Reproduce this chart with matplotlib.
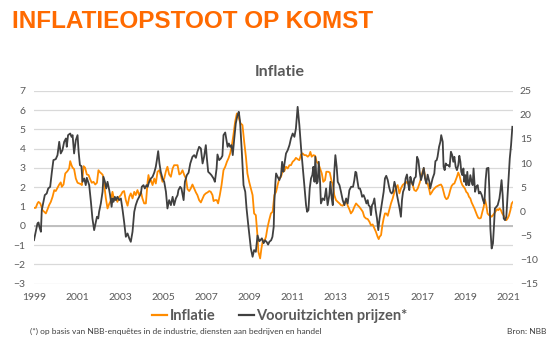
import matplotlib
matplotlib.use('Agg')
import matplotlib.pyplot as plt
from matplotlib.lines import Line2D

# Inflatie (linkeras, %)
infl_years = [
    1999.00, 1999.08, 1999.16, 1999.21, 1999.29, 1999.35, 1999.39, 1999.47, 1999.55, 1999.63,
    1999.70, 1999.78, 1999.86, 1999.94, 2000.01, 2000.09, 2000.17, 2000.24, 2000.29, 2000.37,
    2000.45, 2000.55, 2000.63, 2000.68, 2000.74, 2000.79, 2000.86, 2000.94, 2001.02, 2001.10,
    2001.17, 2001.22, 2001.30, 2001.37, 2001.45, 2001.53, 2001.61, 2001.68, 2001.76, 2001.84,
    2001.92, 2001.99, 2002.07, 2002.13, 2002.19, 2002.26, 2002.33, 2002.41, 2002.49, 2002.56,
    2002.64, 2002.72, 2002.80, 2002.87, 2002.95, 2003.03, 2003.11, 2003.18, 2003.26, 2003.34,
    2003.42, 2003.49, 2003.57, 2003.65, 2003.72, 2003.80, 2003.88, 2003.96, 2004.03, 2004.11,
    2004.19, 2004.27, 2004.31, 2004.37, 2004.42, 2004.50, 2004.58, 2004.65, 2004.73, 2004.81,
    2004.88, 2004.96, 2005.04, 2005.12, 2005.19, 2005.27, 2005.35, 2005.43, 2005.50, 2005.58,
    2005.66, 2005.74, 2005.81, 2005.89, 2005.97, 2006.05, 2006.12, 2006.20, 2006.27, 2006.35,
    2006.43, 2006.51, 2006.58, 2006.66, 2006.74, 2006.82, 2006.89, 2006.97, 2007.05, 2007.13,
    2007.20, 2007.28, 2007.33, 2007.40, 2007.48, 2007.54, 2007.62, 2007.70, 2007.79, 2007.87,
    2007.95, 2008.02, 2008.10, 2008.18, 2008.25, 2008.33, 2008.41, 2008.49, 2008.55, 2008.59,
    2008.67, 2008.75, 2008.83, 2008.90, 2008.98, 2009.06, 2009.14, 2009.21, 2009.29, 2009.37,
    2009.41, 2009.49, 2009.55, 2009.62, 2009.68, 2009.76, 2009.83, 2009.91, 2009.99, 2010.07,
    2010.15, 2010.23, 2010.30, 2010.38, 2010.46, 2010.54, 2010.61, 2010.69, 2010.77, 2010.85,
    2010.92, 2011.00, 2011.08, 2011.15, 2011.23, 2011.31, 2011.39, 2011.46, 2011.54, 2011.62,
    2011.70, 2011.77, 2011.82, 2011.88, 2011.96, 2012.04, 2012.11, 2012.19, 2012.27, 2012.35,
    2012.42, 2012.50, 2012.56, 2012.65, 2012.72, 2012.81, 2012.86, 2012.93, 2013.01, 2013.09,
    2013.17, 2013.24, 2013.32, 2013.40, 2013.48, 2013.55, 2013.63, 2013.70, 2013.78, 2013.86,
    2013.94, 2014.01, 2014.09, 2014.17, 2014.25, 2014.32, 2014.40, 2014.48, 2014.56, 2014.63,
    2014.71, 2014.79, 2014.86, 2014.94, 2014.99, 2015.03, 2015.10, 2015.16, 2015.22, 2015.28,
    2015.34, 2015.41, 2015.48, 2015.56, 2015.64, 2015.72, 2015.79, 2015.87, 2015.95, 2016.02,
    2016.10, 2016.18, 2016.26, 2016.33, 2016.41, 2016.49, 2016.57, 2016.64, 2016.72, 2016.80,
    2016.88, 2016.95, 2017.03, 2017.08, 2017.14, 2017.20, 2017.26, 2017.34, 2017.38, 2017.45,
    2017.51, 2017.57, 2017.65, 2017.72, 2017.80, 2017.88, 2017.94, 2018.00, 2018.06, 2018.13,
    2018.19, 2018.25, 2018.31, 2018.37, 2018.44, 2018.50, 2018.56, 2018.62, 2018.68, 2018.74,
    2018.81, 2018.87, 2018.93, 2018.99, 2019.05, 2019.12, 2019.18, 2019.24, 2019.30, 2019.36,
    2019.43, 2019.49, 2019.55, 2019.61, 2019.67, 2019.73, 2019.80, 2019.86, 2019.92, 2019.98,
    2020.04, 2020.11, 2020.17, 2020.23, 2020.29, 2020.35, 2020.42, 2020.48, 2020.54, 2020.60,
    2020.66, 2020.72, 2020.79, 2020.85, 2020.91, 2020.97, 2021.03, 2021.10, 2021.16, 2021.22,
]
infl_values = [
    0.93, 0.93, 1.16, 1.24, 1.16, 0.98, 0.81, 0.73, 0.64, 0.86,
    1.07, 1.24, 1.50, 1.85, 1.80, 1.97, 2.14, 2.25, 2.02, 2.14,
    2.71, 2.83, 2.97, 3.35, 3.14, 3.01, 2.94, 2.45, 2.23, 2.19,
    2.16, 2.11, 3.09, 3.01, 2.66, 2.63, 2.40, 2.23, 2.28, 2.14,
    2.23, 2.88, 2.76, 2.71, 2.63, 2.11, 1.45, 0.90, 1.14, 1.30,
    1.76, 1.33, 1.42, 1.24, 1.50, 1.59, 1.76, 1.80, 1.33, 1.04,
    1.50, 1.68, 1.42, 1.76, 1.59, 1.85, 1.59, 1.76, 1.42, 1.16,
    1.16, 2.28, 2.63, 2.28, 2.37, 2.11, 2.45, 2.19, 2.80, 2.88,
    2.63, 2.28, 2.45, 2.83, 3.06, 2.66, 2.54, 2.97, 3.14, 3.14,
    3.14, 2.66, 2.71, 2.88, 2.63, 2.45, 1.90, 1.80, 1.93, 2.14,
    1.93, 1.73, 1.59, 1.33, 1.21, 1.42, 1.59, 1.68, 1.73, 1.80,
    1.76, 1.59, 1.28, 1.33, 1.33, 1.16, 1.59, 2.11, 2.88, 3.06,
    3.32, 3.49, 3.75, 4.18, 4.70, 5.39, 5.82, 5.65, 5.39, 5.30,
    5.22, 4.35, 3.58, 2.71, 2.28, 1.93, 1.59, 0.64, 0.55, -0.57,
    -1.35, -1.69, -1.17, -0.74, -0.83, -0.57, -0.10, 0.30, 0.64, 0.73,
    1.59, 1.76, 2.11, 2.45, 2.54, 2.88, 2.83, 3.06, 2.97, 3.14,
    3.14, 3.32, 3.40, 3.52, 3.45, 3.40, 3.70, 3.75, 3.66, 3.66,
    3.58, 3.66, 3.83, 3.58, 3.66, 3.63, 3.32, 3.23, 2.97, 2.71,
    2.28, 2.37, 2.80, 2.80, 2.76, 2.28, 2.19, 1.59, 1.33, 1.24,
    1.16, 1.07, 1.04, 1.16, 1.33, 1.05, 0.85, 0.64, 0.76, 0.98,
    1.16, 1.07, 0.98, 0.86, 0.73, 0.47, 0.38, 0.35, 0.21, 0.03,
    0.07, -0.14, -0.31, -0.57, -0.69, -0.57, -0.48, 0.03, 0.38, 0.64,
    0.64, 0.52, 0.81, 1.16, 1.42, 1.76, 1.93, 2.11, 1.68, 1.93,
    2.11, 2.19, 2.28, 2.19, 2.28, 2.28, 2.11, 1.85, 1.80, 1.93,
    2.19, 2.45, 2.83, 2.97, 2.54, 2.19, 2.20, 1.85, 1.62, 1.73,
    1.85, 1.93, 2.02, 2.06, 2.11, 2.14, 2.02, 1.76, 1.50, 1.38,
    1.42, 1.59, 1.85, 2.06, 2.16, 2.19, 2.37, 2.54, 2.76, 2.59,
    2.28, 2.11, 2.02, 1.93, 1.76, 1.68, 1.50, 1.42, 1.21, 1.07,
    0.90, 0.73, 0.55, 0.41, 0.38, 0.41, 0.73, 0.98, 1.36, 1.07,
    0.64, 0.55, 0.52, 0.47, 0.55, 0.64, 0.76, 0.86, 0.81, 0.90,
    0.81, 0.64, 0.52, 0.38, 0.29, 0.38, 0.52, 0.81, 1.16, 1.24,
]

# Vooruitzichten prijzen* (rechteras, saldo)
prices_years = [
    1999.00, 1999.08, 1999.16, 1999.21, 1999.25, 1999.32, 1999.36, 1999.42, 1999.50, 1999.59,
    1999.66, 1999.75, 1999.83, 1999.90, 2000.01, 2000.09, 2000.17, 2000.24, 2000.32, 2000.40,
    2000.48, 2000.52, 2000.58, 2000.68, 2000.74, 2000.79, 2000.86, 2000.94, 2001.02, 2001.07,
    2001.13, 2001.20, 2001.25, 2001.33, 2001.40, 2001.45, 2001.51, 2001.56, 2001.64, 2001.71,
    2001.79, 2001.87, 2001.92, 2001.98, 2002.02, 2002.10, 2002.18, 2002.22, 2002.29, 2002.35,
    2002.41, 2002.49, 2002.53, 2002.60, 2002.64, 2002.69, 2002.75, 2002.80, 2002.87, 2002.95,
    2003.03, 2003.11, 2003.18, 2003.26, 2003.34, 2003.42, 2003.49, 2003.57, 2003.65, 2003.72,
    2003.80, 2003.88, 2003.96, 2004.00, 2004.08, 2004.14, 2004.22, 2004.27, 2004.34, 2004.42,
    2004.50, 2004.58, 2004.65, 2004.70, 2004.76, 2004.82, 2004.88, 2004.96, 2005.04, 2005.12,
    2005.19, 2005.27, 2005.35, 2005.43, 2005.50, 2005.58, 2005.66, 2005.70, 2005.78, 2005.84,
    2005.94, 2006.00, 2006.09, 2006.17, 2006.25, 2006.35, 2006.43, 2006.51, 2006.58, 2006.66,
    2006.74, 2006.82, 2006.89, 2006.97, 2007.02, 2007.08, 2007.16, 2007.23, 2007.33, 2007.39,
    2007.47, 2007.51, 2007.59, 2007.67, 2007.74, 2007.79, 2007.87, 2007.93, 2007.98, 2008.04,
    2008.10, 2008.16, 2008.22, 2008.29, 2008.36, 2008.44, 2008.50, 2008.56, 2008.64, 2008.72,
    2008.80, 2008.86, 2008.94, 2009.01, 2009.06, 2009.14, 2009.21, 2009.29, 2009.37, 2009.45,
    2009.50, 2009.57, 2009.65, 2009.72, 2009.80, 2009.86, 2009.92, 2010.00, 2010.06, 2010.12,
    2010.15, 2010.20, 2010.23, 2010.30, 2010.38, 2010.46, 2010.51, 2010.57, 2010.61, 2010.69,
    2010.77, 2010.85, 2010.92, 2011.00, 2011.08, 2011.15, 2011.23, 2011.31, 2011.39, 2011.46,
    2011.54, 2011.62, 2011.67, 2011.73, 2011.79, 2011.85, 2011.91, 2011.96, 2012.01, 2012.05,
    2012.11, 2012.16, 2012.21, 2012.27, 2012.31, 2012.39, 2012.47, 2012.55, 2012.62, 2012.70,
    2012.75, 2012.81, 2012.86, 2012.93, 2012.98, 2013.04, 2013.09, 2013.17, 2013.24, 2013.32,
    2013.40, 2013.48, 2013.55, 2013.63, 2013.71, 2013.80, 2013.86, 2013.91, 2013.95, 2014.01,
    2014.06, 2014.12, 2014.17, 2014.22, 2014.29, 2014.35, 2014.42, 2014.48, 2014.52, 2014.59,
    2014.63, 2014.68, 2014.73, 2014.79, 2014.85, 2014.91, 2014.97, 2015.03, 2015.10, 2015.16,
    2015.22, 2015.28, 2015.34, 2015.41, 2015.47, 2015.53, 2015.59, 2015.65, 2015.72, 2015.78,
    2015.84, 2015.90, 2015.96, 2016.02, 2016.07, 2016.12, 2016.18, 2016.24, 2016.30, 2016.37,
    2016.41, 2016.46, 2016.52, 2016.58, 2016.64, 2016.71, 2016.77, 2016.83, 2016.89, 2016.95,
    2017.01, 2017.08, 2017.14, 2017.20, 2017.26, 2017.34, 2017.38, 2017.45, 2017.49, 2017.57,
    2017.62, 2017.68, 2017.72, 2017.79, 2017.85, 2017.89, 2017.96, 2018.00, 2018.05, 2018.10,
    2018.16, 2018.22, 2018.28, 2018.34, 2018.40, 2018.45, 2018.50, 2018.56, 2018.62, 2018.68,
    2018.73, 2018.78, 2018.82, 2018.87, 2018.92, 2018.96, 2019.01, 2019.05, 2019.10, 2019.15,
    2019.19, 2019.24, 2019.30, 2019.35, 2019.39, 2019.46, 2019.52, 2019.58, 2019.64, 2019.70,
    2019.77, 2019.83, 2019.89, 2019.95, 2020.00, 2020.08, 2020.12, 2020.17, 2020.23, 2020.29,
    2020.34, 2020.38, 2020.45, 2020.51, 2020.59, 2020.63, 2020.69, 2020.74, 2020.79, 2020.85,
    2020.91, 2020.97, 2021.02, 2021.07, 2021.13, 2021.19,
]
prices_values = [
    -5.97, -4.24, -2.52, -2.31, -3.20, -4.24, 0.25, 1.63, 3.36, 3.70,
    4.74, 5.08, 8.19, 10.61, 10.82, 11.65, 14.41, 11.99, 12.68, 14.41,
    15.10, 13.37, 15.79, 16.13, 15.44, 15.79, 11.99, 14.75, 15.79, 12.34,
    9.57, 9.37, 6.12, 6.81, 5.43, 6.95, 6.12, 5.43, 1.97, -1.48,
    -3.90, -2.17, -1.13, -1.48, -0.10, 1.63, 4.05, 7.16, 6.12, 4.74,
    6.12, 4.39, 3.36, 0.94, 2.67, 1.97, 3.01, 2.32, 3.01, 2.32,
    2.67, 0.25, -2.17, -5.28, -4.59, -5.63, -6.32, -4.24, -0.10, 1.28,
    2.32, 3.01, 3.70, 5.08, 5.43, 4.74, 5.43, 5.08, 6.12, 6.81,
    7.16, 8.05, 9.23, 10.61, 12.48, 9.92, 8.19, 6.81, 6.12, 4.05,
    0.59, 2.32, 1.28, 3.01, 1.28, 2.67, 3.36, 4.39, 5.08, 4.74,
    2.32, 6.12, 7.50, 8.00, 9.92, 11.30, 11.65, 11.09, 12.34, 13.37,
    13.03, 9.92, 11.30, 13.72, 10.96, 8.19, 7.85, 7.50, 6.81, 6.12,
    8.88, 11.78, 10.61, 10.96, 11.51, 15.79, 16.34, 14.75, 13.37, 14.06,
    13.37, 13.72, 11.65, 15.10, 18.21, 19.93, 20.63, 18.55, 12.34, 5.43,
    4.05, 0.59, -2.86, -5.63, -7.70, -9.42, -8.04, -8.39, -5.00, -6.20,
    -6.00, -5.60, -6.60, -6.00, -6.40, -6.90, -6.30, -6.00, -5.30, -3.20,
    1.97, 6.12, 7.85, 7.16, 6.47, 7.50, 10.26, 8.19, 9.57, 11.99,
    12.68, 13.72, 15.10, 16.13, 15.44, 17.17, 21.66, 17.86, 13.03, 9.57,
    5.43, 1.28, -0.10, 0.25, 4.74, 6.81, 7.50, 9.23, 6.12, 11.30,
    5.77, 6.12, 10.26, 6.12, 1.63, 2.67, 2.32, 4.74, 1.28, 3.36,
    6.12, 2.67, 1.28, 8.19, 11.65, 9.23, 6.12, 5.43, 4.05, 2.32,
    1.28, 2.67, 1.63, 4.39, 5.08, 5.08, 6.47, 8.19, 8.05, 6.12,
    4.74, 4.74, 4.05, 3.01, 3.36, 2.67, 1.63, 2.32, 1.28, 0.94,
    -0.79, 1.28, 1.63, 2.67, 0.25, -1.48, -3.90, -1.48, 0.59, 2.32,
    4.05, 6.81, 7.36, 6.47, 5.08, 4.05, 3.70, 4.05, 6.12, 5.08,
    3.36, 1.97, 0.59, -1.13, 2.32, 4.05, 4.74, 6.81, 7.64, 5.43,
    4.39, 7.16, 6.12, 5.43, 6.81, 7.16, 11.30, 10.61, 8.19, 6.47,
    7.50, 9.02, 6.81, 5.77, 7.60, 6.12, 4.74, 6.12, 6.81, 7.85,
    10.40, 10.61, 11.30, 13.37, 14.41, 15.79, 14.41, 9.23, 8.54, 9.92,
    9.57, 9.57, 9.23, 12.34, 11.65, 10.26, 11.30, 9.23, 8.54, 9.57,
    11.51, 10.26, 8.19, 7.50, 8.88, 6.12, 7.50, 5.43, 8.19, 5.43,
    5.43, 7.50, 6.12, 5.43, 8.88, 4.05, 5.08, 5.43, 3.70, 4.05,
    3.36, 2.32, 1.63, 6.47, 8.88, 9.02, 4.74, -3.55, -7.70, -6.66,
    -2.86, 0.59, 0.94, 1.28, 2.67, 4.05, 6.47, 3.36, -1.48, -1.83,
    -1.13, 3.36, 6.81, 10.96, 13.72, 17.52,
]

x_ticks = list(range(1999, 2022, 2))
left_ticks = list(range(-3, 8))
right_ticks = list(range(-15, 26, 5))

ORANGE = '#FF8C00'
DARK = '#404040'
GREY = '#595959'

W, H = 553, 343
fig = plt.figure(figsize=(W / 100, H / 100), dpi=100)
fig.patch.set_facecolor('white')

ax = fig.add_axes([34 / W, 1 - 283.7 / H, (513 - 34) / W, (283.7 - 90.7) / H])
ax2 = ax.twinx()

ax.plot(infl_years, infl_values, color=ORANGE, lw=1.3, solid_joinstyle='round', zorder=3)
ax2.plot(prices_years, prices_values, color=DARK, lw=1.3, solid_joinstyle='round', zorder=3)

ax.set_xlim(1999.0, 2021.22)
ax.set_ylim(-3, 7)
ax2.set_ylim(-15, 25)
ax.set_xticks(x_ticks)
ax.set_xticklabels([str(t) for t in x_ticks])
ax.set_yticks(left_ticks)
ax2.set_yticks(right_ticks)

ax.set_axisbelow(True)
ax.yaxis.grid(True, color='#D9D9D9', lw=0.9)
ax.axhline(0, color='#BFBFBF', lw=1.4, zorder=1)

for a in (ax, ax2):
    for s in a.spines.values():
        s.set_visible(False)
    a.tick_params(length=0, labelcolor=GREY, labelsize=7.5)
    for lab in a.get_xticklabels() + a.get_yticklabels():
        lab.set_family('Lato')
ax.tick_params(axis='x', pad=7)
ax.tick_params(axis='y', pad=6)
ax2.tick_params(axis='y', pad=5)

fig.text(12 / W, 1 - 21 / H, 'INFLATIEOPSTOOT OP KOMST', color='#FF6A00',
         fontsize=17.5, fontweight='bold', family='Liberation Sans', va='center')
fig.text(280 / W, 1 - 72 / H, 'Inflatie', ha='center', va='center',
         fontsize=11.5, fontweight='bold', color=GREY, family='Lato')

handles = [Line2D([], [], color=ORANGE, lw=1.6), Line2D([], [], color=DARK, lw=1.6)]
leg = fig.legend(handles, ['Inflatie', 'Vooruitzichten prijzen*'], loc='center',
                 bbox_to_anchor=(280 / W, 1 - 316 / H), ncol=2, frameon=False,
                 handlelength=1.0, handletextpad=0.2, columnspacing=1.6,
                 prop={'family': 'Lato', 'size': 10.5, 'weight': 'bold'})
for t in leg.get_texts():
    t.set_color(GREY)

fig.text(30 / W, 1 - 331 / H,
         '(*) op basis van NBB-enquêtes in de industrie, diensten aan bedrijven en handel',
         fontsize=6, color='#404040', va='center', family='Lato')
fig.text(546 / W, 1 - 331 / H, 'Bron: NBB', fontsize=6, color='#404040',
         va='center', ha='right', family='Lato')

fig.savefig('out.png', dpi=100)
